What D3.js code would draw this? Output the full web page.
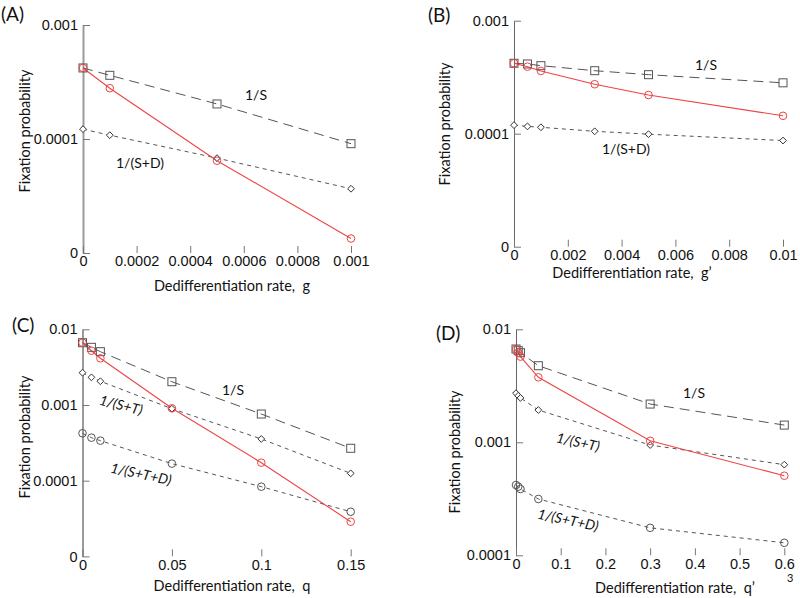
<!DOCTYPE html>
<html><head><meta charset="utf-8">
<script src="https://cdn.jsdelivr.net/npm/d3@7"></script>
<style>body{margin:0;background:#fff}svg{display:block}</style>
</head><body>
<svg id="c" width="800" height="598"></svg>
<script>
// ---------- data ----------
const xA = [0, 0.0001, 0.0005, 0.001];
const aS   = [4.2e-4, 3.62e-4, 2.03e-4, 9.1e-5];
const aFix = [4.2e-4, 2.79e-4, 6.45e-5, 1.34e-5];
const aSD  = [1.22e-4, 1.08e-4, 6.8e-5, 3.66e-5];

const xB = [0, 0.0005, 0.001, 0.003, 0.005, 0.01];
const bS   = [4.2e-4, 4.14e-4, 4.0e-4, 3.61e-4, 3.33e-4, 2.82e-4];
const bFix = [4.2e-4, 3.92e-4, 3.59e-4, 2.74e-4, 2.2e-4, 1.44e-4];
const bSD  = [1.19e-4, 1.16e-4, 1.14e-4, 1.05e-4, 9.9e-5, 8.7e-5];

const xC = [0, 0.005, 0.01, 0.05, 0.1, 0.15];
const cS   = [6.65e-3, 5.78e-3, 5.06e-3, 2.03e-3, 7.6e-4, 2.68e-4];
const cFix = [6.65e-3, 5.21e-3, 4.14e-3, 9.04e-4, 1.73e-4, 2.87e-5];
const cST  = [2.67e-3, 2.32e-3, 2.06e-3, 8.93e-4, 3.56e-4, 1.25e-4];
const cSTD = [4.23e-4, 3.7e-4, 3.38e-4, 1.68e-4, 8.34e-5, 3.89e-5];

const xD = [0, 0.005, 0.01, 0.05, 0.3, 0.6];
const dS   = [6.69e-3, 6.47e-3, 6.21e-3, 4.76e-3, 2.18e-3, 1.42e-3];
const dFix = [6.69e-3, 6.2e-3, 5.73e-3, 3.76e-3, 1.03e-3, 5.06e-4];
const dST  = [2.72e-3, 2.58e-3, 2.47e-3, 1.93e-3, 9.46e-4, 6.34e-4];
const dSTD = [4.19e-4, 4.05e-4, 3.86e-4, 3.15e-4, 1.75e-4, 1.29e-4];

const xTicksA = [0, 0.0002, 0.0004, 0.0006, 0.0008, 0.001];
const xTickLabelsA = ["0", "0.0002", "0.0004", "0.0006", "0.0008", "0.001"];
const xTicksB = [0, 0.002, 0.004, 0.006, 0.008, 0.01];
const xTickLabelsB = ["0", "0.002", "0.004", "0.006", "0.008", "0.01"];
const xTicksC = [0, 0.05, 0.1, 0.15];
const xTickLabelsC = ["0", "0.05", "0.1", "0.15"];
const xTicksD = [0, 0.1, 0.2, 0.3, 0.4, 0.5, 0.6];
const xTickLabelsD = ["0", "0.1", "0.2", "0.3", "0.4", "0.5", "0.6"];

const yTicksAB = [1e-3, 1e-4, 1e-5];
const yTickLabelsAB = ["0.001", "0.0001", "0"];
const yTicksC = [1e-2, 1e-3, 1e-4, 1e-5];
const yTickLabelsC = ["0.01", "0.001", "0.0001", "0"];
const yTicksD = [1e-2, 1e-3, 1e-4];
const yTickLabelsD = ["0.01", "0.001", "0.0001"];

// ---------- drawing ----------
const svg = d3.select("#c");
const NUM = "'Liberation Sans', Arial, sans-serif";
const TXT = "Lato, 'Open Sans', sans-serif";
const GRAY = "#555";
const RED = "#ee4444";

const panels = [
  {tag:"(A)", tagX:1, tagY:21, x0:83, x1:351, yT:25, yB:253, xd:[0,0.001], yd:[1e-5,1e-3],
   xt:xTicksA, xtl:xTickLabelsA, yt:yTicksAB, ytl:yTickLabelsAB, thick:true,
   xs:xA, S:aS, fix:aFix, others:[{v:aSD, m:"diamond"}],
   title:"Dedifferentiation rate,  g", titleX:232, titleY:291, ylabX:25, ylabY:131,
   labels:[{t:"1/S", x:256, y:100, it:false, r:0},{t:"1/(S+D)", x:140, y:168, it:false, r:0}]},
  {tag:"(B)", tagX:428, tagY:22, x0:514, x1:783, yT:20.7, yB:246.7, xd:[0,0.01], yd:[1e-5,1e-3],
   xt:xTicksB, xtl:xTickLabelsB, yt:yTicksAB, ytl:yTickLabelsAB, thick:false,
   xs:xB, S:bS, fix:bFix, others:[{v:bSD, m:"diamond"}],
   title:"Dedifferentiation rate,  g\u2019", titleX:632, titleY:278, ylabX:445, ylabY:124,
   labels:[{t:"1/S", x:706, y:70, it:false, r:0},{t:"1/(S+D)", x:626, y:154, it:false, r:0}]},
  {tag:"(C)", tagX:12, tagY:332, x0:82.5, x1:350.7, yT:329.3, yB:556.4, xd:[0,0.15], yd:[1e-5,1e-2],
   xt:xTicksC, xtl:xTickLabelsC, yt:yTicksC, ytl:yTickLabelsC, thick:true,
   xs:xC, S:cS, fix:cFix, others:[{v:cST, m:"diamond"},{v:cSTD, m:"circle"}],
   title:"Dedifferentiation rate,  q", titleX:232, titleY:591, ylabX:25, ylabY:437,
   labels:[{t:"1/S", x:233, y:395, it:false, r:0},{t:"1/(S+T)", x:121, y:410, it:true, r:14},
           {t:"1/(S+T+D)", x:141, y:479, it:true, r:12}]},
  {tag:"(D)", tagX:436, tagY:340, x0:516, x1:784.3, yT:329.3, yB:555.3, xd:[0,0.6], yd:[1e-4,1e-2],
   xt:xTicksD, xtl:xTickLabelsD, yt:yTicksD, ytl:yTickLabelsD, thick:false,
   xs:xD, S:dS, fix:dFix, others:[{v:dST, m:"diamond"},{v:dSTD, m:"circle"}],
   title:"Dedifferentiation rate,  q\u2019", titleX:675, titleY:593, ylabX:455, ylabY:452,
   labels:[{t:"1/S", x:694, y:398, it:false, r:0},{t:"1/(S+T)", x:578, y:447, it:true, r:12},
           {t:"1/(S+T+D)", x:568, y:525, it:true, r:12}]}
];

panels.forEach(p => {
  const g = svg.append("g");
  const x = d3.scaleLinear().domain(p.xd).range([p.x0, p.x1]);
  const y = d3.scaleLog().domain(p.yd).range([p.yB, p.yT]);

  // y axis
  const ya = g.append("g").attr("transform", `translate(${p.x0},0)`)
    .call(d3.axisLeft(y).tickValues(p.yt).tickFormat((d,i)=>p.ytl[i])
      .tickSizeInner(-7).tickSizeOuter(0).tickPadding(5));
  ya.attr("font-family", NUM).attr("font-size", 14.5);
  ya.select(".domain").attr("stroke", p.thick ? "#9a9a9a" : "#666").attr("stroke-width", p.thick ? 2 : 1);
  ya.selectAll(".tick line").attr("stroke", "#777").attr("stroke-width", 1);
  ya.selectAll(".tick text").attr("fill", "#111");

  // x axis
  const xa = g.append("g").attr("transform", `translate(0,${p.yB})`)
    .call(d3.axisBottom(x).tickValues(p.xt).tickFormat((d,i)=>p.xtl[i])
      .tickSizeInner(-7).tickSizeOuter(0).tickPadding(3));
  xa.attr("font-family", NUM).attr("font-size", 14.5);
  xa.select(".domain").remove();
  xa.selectAll(".tick line").attr("stroke", "#777").attr("stroke-width", 1);
  xa.selectAll(".tick text").attr("fill", "#111");

  const line = vals => d3.line().x((d,i)=>x(p.xs[i])).y(d=>y(d))(vals);

  // reference lines
  g.append("path").attr("d", line(p.S)).attr("fill","none").attr("stroke", GRAY)
    .attr("stroke-width", 1).attr("stroke-dasharray", "10,6");
  p.others.forEach(o => {
    g.append("path").attr("d", line(o.v)).attr("fill","none").attr("stroke", GRAY)
      .attr("stroke-width", 1).attr("stroke-dasharray", "4,4");
  });
  // simulated
  g.append("path").attr("d", line(p.fix)).attr("fill","none").attr("stroke", RED).attr("stroke-width", 1.1);

  // markers
  g.selectAll(null).data(p.S).join("rect")
    .attr("x",(d,i)=>x(p.xs[i])-4).attr("y",d=>y(d)-4).attr("width",8).attr("height",8)
    .attr("fill","none").attr("stroke", GRAY).attr("stroke-width",1);
  p.others.forEach(o => {
    if (o.m === "diamond") {
      g.selectAll(null).data(o.v).join("path")
        .attr("d",(d,i)=>{const cx=x(p.xs[i]), cy=y(d), r=3.4; return `M${cx},${cy-r}L${cx+r},${cy}L${cx},${cy+r}L${cx-r},${cy}Z`;})
        .attr("fill","#fff").attr("stroke","#333").attr("stroke-width",1);
    } else {
      g.selectAll(null).data(o.v).join("circle")
        .attr("cx",(d,i)=>x(p.xs[i])).attr("cy",d=>y(d)).attr("r",3.8)
        .attr("fill","none").attr("stroke", GRAY).attr("stroke-width",1);
    }
  });
  g.selectAll(null).data(p.fix).join("circle")
    .attr("cx",(d,i)=>x(p.xs[i])).attr("cy",d=>y(d)).attr("r",3.8)
    .attr("fill","none").attr("stroke", RED).attr("stroke-width",1);

  // series labels
  p.labels.forEach(l => {
    g.append("text").attr("x", l.x).attr("y", l.y).attr("text-anchor","middle")
      .attr("transform", `rotate(${l.r},${l.x},${l.y-5})`)
      .attr("font-family", TXT).attr("font-size", 14).attr("font-style", l.it ? "italic" : "normal")
      .attr("fill","#111").text(l.t);
  });

  // titles
  g.append("text").attr("x", p.titleX).attr("y", p.titleY).attr("text-anchor","middle")
    .attr("font-family", TXT).attr("font-size", 14.5).attr("fill","#111")
    .style("white-space","pre").text(p.title);
  g.append("text").attr("transform", `translate(${p.ylabX + 5},${p.ylabY}) rotate(-90)`)
    .attr("text-anchor","middle").attr("font-family", TXT).attr("font-size", 14.5).attr("fill","#111")
    .text("Fixation probability");
  g.append("text").attr("x", p.tagX).attr("y", p.tagY).attr("font-family", TXT)
    .attr("font-size", 19).attr("fill","#111").text(p.tag);
});

svg.append("text").attr("x", 787).attr("y", 582).attr("font-family", TXT).attr("font-size", 11)
  .attr("fill","#111").text("3");
</script>
</body></html>
